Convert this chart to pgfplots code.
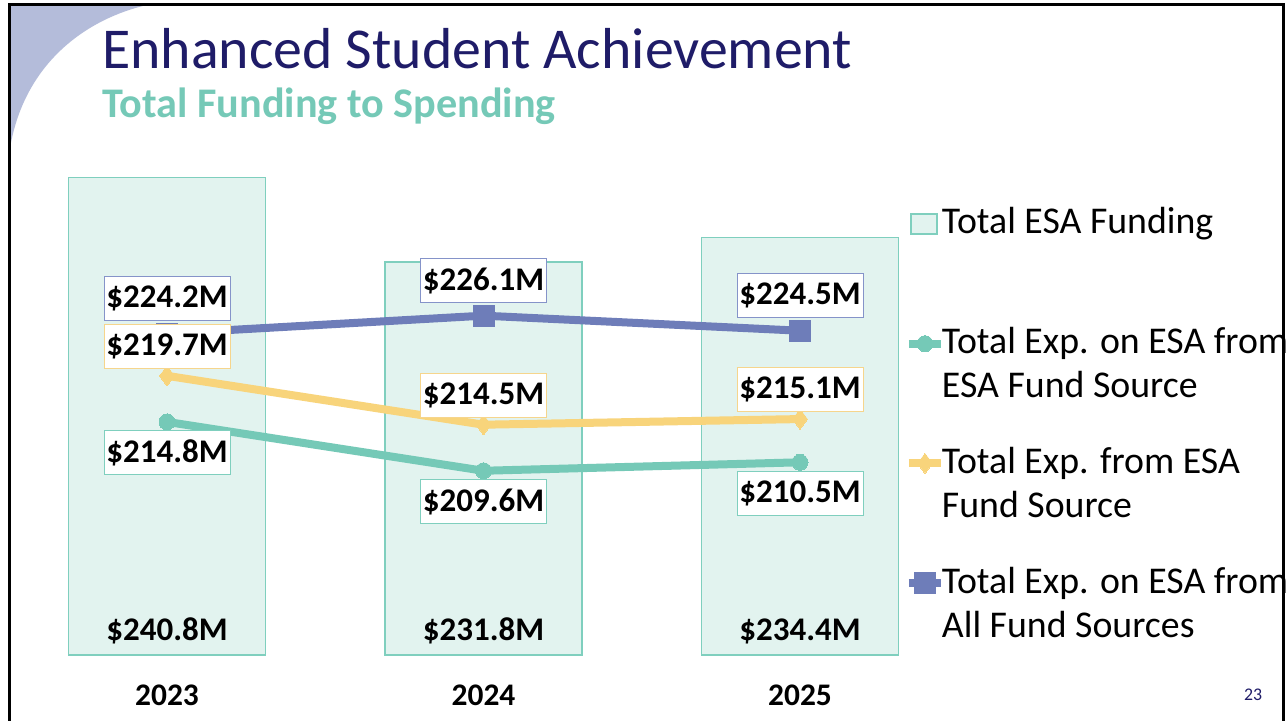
\documentclass[border=0pt]{standalone}
\usepackage{pgfplots}
\pgfplotsset{compat=1.18}
\usepackage{fontspec}
\setmainfont{Carlito}
\definecolor{barfill}{HTML}{E2F3EF}
\definecolor{baredge}{HTML}{7FCFBE}
\definecolor{tealc}{HTML}{75C9B7}
\definecolor{yellowc}{HTML}{F8D47B}
\definecolor{bluec}{HTML}{6E7DB9}
\definecolor{blueedge}{HTML}{8593C9}
\definecolor{yellowedge}{HTML}{F6D58C}
\definecolor{navy}{HTML}{1F1C68}
\definecolor{cornerc}{HTML}{B4BCDA}
\newcommand{\legtwo}[2]{\vtop{\hbox{\strut #1}\hbox{\strut #2}}}
\begin{document}
\begin{tikzpicture}
\clip (0pt,0pt) rectangle (644pt,-360.5pt);
\begin{scope}[x=0.5pt,y=-0.5pt]
\path[use as bounding box] (0,0) rectangle (1288,721);
\fill[white] (0,0) rectangle (1288,721);
\fill[cornerc] (10,5) -- (147,5) .. controls (90,18) and (25,60) .. (10,148) -- cycle;
\node[anchor=base west, inner sep=0pt, text=navy, font=\fontsize{28.9}{34}\selectfont] at (102,69) {Enhanced Student Achievement};
\node[anchor=base west, inner sep=0pt, text=tealc, font=\bfseries\fontsize{21.1}{25}\selectfont] at (102,118) {Total Funding to Spending};
\node[text=navy, font=\fontsize{8.9}{10}\selectfont] at (1253,695) {23};
\end{scope}
\begin{axis}[
  at={(20.2pt,-327.5pt)}, anchor=south west,
  scale only axis, width=443.1pt, height=258.5pt,
  xmin=-0.4, xmax=2.4, ymin=190, ymax=245,
  clip=false,
  axis line style={draw=none},
  major tick length=0pt,
  xtick={0,1,2}, xticklabels={\textbf{2023},\textbf{2024},\textbf{2025}},
  xticklabel style={anchor=center, yshift=-20pt, font=\fontsize{15.7}{18}\selectfont},
  ytick=\empty,
  legend cell align=left,
  legend style={at={(axis description cs:0.9756,0.8817)}, anchor=north west,
    draw=none, fill=none, inner sep=0pt, outer sep=0pt,
    font=\fontsize{18.9}{22}\selectfont,
    row sep={59.85pt,between origins}, column sep=-3.5pt,
    cells={anchor=base west, inner sep=0pt}},
  legend image code/.code={\draw[mark repeat=2,mark phase=2,#1] plot coordinates {(0pt,5pt) (8pt,5pt) (16pt,5pt)};},
]
\addplot[ybar, bar width=98.5pt, bar shift=0pt, fill=barfill, draw=baredge, line width=0.75pt,
  legend image code/.code={\draw[fill=barfill, draw=baredge, line width=0.75pt] (1pt,0pt) rectangle (14pt,10pt);}]
  coordinates {(0,240.8) (1,231.8) (2,234.4)};
\addlegendentry{\legtwo{Total ESA Funding}{}}
\addplot[color=tealc, line width=4pt, mark=*, mark size=4pt, mark options={solid, line width=0pt}]
  coordinates {(0,214.8) (1,209.6) (2,210.5)};
\addlegendentry{\legtwo{Total Exp. on ESA from}{ESA Fund Source}}
\addplot[color=yellowc, line width=4pt, mark=diamond*, mark size=5pt, mark options={solid, line width=0pt}]
  coordinates {(0,219.7) (1,214.5) (2,215.1)};
\addlegendentry{\legtwo{Total Exp. from ESA}{Fund Source}}
\addplot[color=bluec, line width=4pt, mark=square*, mark size=5.25pt, mark options={solid, line width=0pt}]
  coordinates {(0,224.2) (1,226.1) (2,224.5)};
\addlegendentry{\legtwo{Total Exp. on ESA from}{All Fund Sources}}
% data labels
\addplot[forget plot, draw=none, mark=none, point meta=explicit symbolic, nodes near coords,
  every node near coord/.style={anchor=center, yshift=-15.5pt, draw=baredge, fill=white, text=black, line width=0.5pt, minimum width=63pt, minimum height=22pt, inner sep=0pt, font=\bfseries\fontsize{16.5}{19}\selectfont}]
  coordinates {(0,214.8) [\$214.8M] (1,209.6) [\$209.6M] (2,210.5) [\$210.5M]};
\addplot[forget plot, draw=none, mark=none, point meta=explicit symbolic, nodes near coords,
  every node near coord/.style={anchor=center, yshift=14.75pt, draw=yellowedge, fill=white, text=black, line width=0.5pt, minimum width=63pt, minimum height=22pt, inner sep=0pt, font=\bfseries\fontsize{16.5}{19}\selectfont}]
  coordinates {(0,219.7) [\$219.7M] (1,214.5) [\$214.5M] (2,215.1) [\$215.1M]};
\addplot[forget plot, draw=none, mark=none, point meta=explicit symbolic, nodes near coords,
  every node near coord/.style={anchor=center, yshift=17.5pt, draw=blueedge, fill=white, text=black, line width=0.5pt, minimum width=63pt, minimum height=22pt, inner sep=0pt, font=\bfseries\fontsize{16.5}{19}\selectfont}]
  coordinates {(0,224.2) [\$224.2M] (1,226.1) [\$226.1M] (2,224.5) [\$224.5M]};
\node[font=\bfseries\fontsize{16.5}{19}\selectfont] at (axis cs:0,192.55) {\$240.8M};
\node[font=\bfseries\fontsize{16.5}{19}\selectfont] at (axis cs:1,192.55) {\$231.8M};
\node[font=\bfseries\fontsize{16.5}{19}\selectfont] at (axis cs:2,192.55) {\$234.4M};
\end{axis}
\begin{scope}[x=0.5pt,y=-0.5pt]
\draw[line width=1.5pt] (9.5,730) -- (9.5,5) -- (1283.5,5) -- (1283.5,730);
\end{scope}
\end{tikzpicture}
\end{document}
